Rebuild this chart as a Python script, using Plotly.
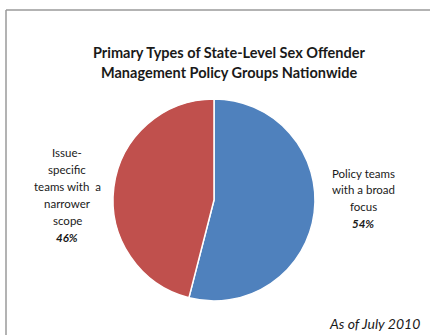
import plotly.graph_objects as go

labels = ["Policy teams with a broad focus", "Issue-specific teams with a narrower scope"]
label_lines = [["Policy teams", "with a broad", "focus"],
               ["Issue-", "specific", "teams with  a", "narrower", "scope"]]
values = [54, 46]
colors = ["#4F81BD", "#C0504D"]
title_lines = ["Primary Types of State-Level Sex Offender", "Management Policy Groups Nationwide"]
note = "As of July 2010"

W, H = 430, 335
def px(x): return x / W
def py(y): return 1 - y / H

fig = go.Figure(go.Pie(
    labels=labels, values=values, sort=False, direction="clockwise", rotation=0,
    marker=dict(colors=colors, line=dict(color="white", width=1.5)),
    textinfo="none", hoverinfo="label+percent", showlegend=False,
    domain=dict(x=[px(113), px(315)], y=[py(301), py(99)]),
))

font = "Lato, 'Open Sans', sans-serif"
ann = []
# title
for i, t in enumerate(title_lines):
    ann.append(dict(text="<b>%s</b>" % t, x=px(229), y=py(52 + 20 * i), xref="paper", yref="paper",
                    showarrow=False, xanchor="center", yanchor="middle",
                    font=dict(family=font, size=14.5, color="#1a1a1a")))
# slice labels
centers = [(363, 173), (67, 153)]
for k, lines in enumerate(label_lines):
    cx, cy = centers[k]
    allines = lines + ["<b><i>%d%%</i></b>" % values[k]]
    for j, t in enumerate(allines):
        ann.append(dict(text=t, x=px(cx), y=py(cy + 16.8 * j), xref="paper", yref="paper",
                        showarrow=False, xanchor="center", yanchor="middle",
                        font=dict(family=font, size=11.5, color="#1a1a1a")))
ann.append(dict(text="<i>%s</i>" % note, x=px(422), y=py(323), xref="paper", yref="paper",
                showarrow=False, xanchor="right", yanchor="middle",
                font=dict(family=font, size=14, color="#1a1a1a")))

border = dict(color="#9a9a9a", width=1.5)
fig.update_layout(
    width=W, height=H, margin=dict(l=0, r=0, t=0, b=0),
    paper_bgcolor="white", plot_bgcolor="white",
    annotations=ann,
    shapes=[dict(type="line", xref="paper", yref="paper", x0=px(6), x1=1.0, y0=py(10), y1=py(10), line=border),
            dict(type="line", xref="paper", yref="paper", x0=px(6), x1=px(6), y0=0, y1=py(10), line=border)],
)
fig.write_html("out.html", config={"displayModeBar": False},
               post_script="document.body.style.margin='0';document.body.style.overflow='hidden';")
